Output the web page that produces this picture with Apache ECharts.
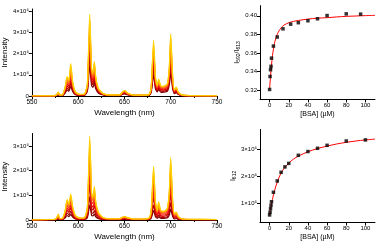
<!DOCTYPE html>
<html><head><meta charset="utf-8">
<script src="https://cdn.jsdelivr.net/npm/echarts@6/dist/echarts.min.js"></script>
<style>html,body{margin:0;padding:0;background:#fff}#c{width:377px;height:245px}</style>
</head><body><div id="c"></div>
<script>
// Wavelength grid (nm)
const wavelength = [550,570,575,577,578.5,580,583,586,588,590,592,594,597,602,607,610,612.5,614.5,616,617.5,619,622,627,635,645,648,650.5,653,660,672,677,679,681.5,683.5,685.5,687,689,691.5,694,696.5,698.5,700,702,704,706,708,712,720,750];

// Top spectra (intensity, units of 1e6), low BSA (dark red) -> high BSA (yellow)
const topS1 = [0.00,0.00,0.01,0.03,0.07,0.02,0.02,0.14,0.28,0.23,0.46,0.21,0.06,0.03,0.04,0.23,1.45,0.49,0.41,0.61,0.34,0.13,0.05,0.02,0.02,0.08,0.10,0.06,0.02,0.02,0.04,0.19,0.99,0.34,0.19,0.30,0.19,0.17,0.19,0.23,0.53,1.10,0.38,0.11,0.16,0.08,0.02,0.01,0.00];
const topS2 = [0.00,0.00,0.01,0.04,0.09,0.02,0.03,0.18,0.37,0.30,0.61,0.28,0.08,0.04,0.05,0.29,1.85,0.63,0.53,0.78,0.43,0.17,0.06,0.02,0.02,0.10,0.13,0.07,0.02,0.02,0.05,0.24,1.26,0.43,0.24,0.38,0.24,0.22,0.24,0.29,0.67,1.41,0.48,0.14,0.20,0.10,0.02,0.01,0.00];
const topS3 = [0.00,0.01,0.01,0.05,0.11,0.03,0.04,0.23,0.47,0.38,0.78,0.36,0.10,0.05,0.06,0.35,2.25,0.76,0.64,0.95,0.53,0.20,0.07,0.03,0.03,0.12,0.15,0.09,0.02,0.02,0.06,0.29,1.53,0.53,0.29,0.47,0.29,0.27,0.29,0.35,0.82,1.71,0.58,0.18,0.25,0.12,0.03,0.01,0.01];
const topS4 = [0.00,0.01,0.01,0.05,0.12,0.03,0.04,0.27,0.56,0.46,0.93,0.43,0.12,0.05,0.07,0.41,2.60,0.88,0.74,1.09,0.61,0.24,0.08,0.03,0.03,0.14,0.18,0.10,0.03,0.03,0.07,0.34,1.77,0.61,0.34,0.54,0.34,0.31,0.34,0.41,0.95,1.98,0.68,0.20,0.28,0.14,0.03,0.01,0.01];
const topS5 = [0.00,0.01,0.02,0.06,0.14,0.04,0.05,0.32,0.65,0.53,1.09,0.50,0.14,0.06,0.08,0.46,2.95,1.00,0.84,1.24,0.69,0.27,0.09,0.04,0.04,0.15,0.20,0.11,0.03,0.03,0.08,0.38,2.01,0.69,0.38,0.61,0.38,0.35,0.38,0.46,1.07,2.24,0.77,0.23,0.32,0.15,0.04,0.02,0.01];
const topS6 = [0.00,0.01,0.02,0.07,0.15,0.04,0.05,0.37,0.75,0.62,1.25,0.57,0.16,0.07,0.09,0.51,3.30,1.11,0.94,1.39,0.77,0.30,0.10,0.04,0.04,0.17,0.22,0.13,0.03,0.03,0.09,0.43,2.25,0.77,0.43,0.69,0.43,0.39,0.43,0.51,1.20,2.51,0.86,0.26,0.36,0.17,0.04,0.02,0.01];
const topS7 = [0.00,0.01,0.02,0.07,0.17,0.05,0.06,0.41,0.85,0.69,1.41,0.64,0.18,0.07,0.09,0.56,3.60,1.22,1.03,1.51,0.84,0.33,0.11,0.05,0.05,0.19,0.24,0.14,0.04,0.04,0.09,0.47,2.45,0.84,0.47,0.75,0.47,0.43,0.47,0.56,1.31,2.74,0.94,0.28,0.39,0.19,0.05,0.02,0.01];
const topS8 = [0.00,0.01,0.02,0.08,0.18,0.05,0.06,0.45,0.92,0.75,1.53,0.70,0.20,0.08,0.10,0.60,3.85,1.30,1.10,1.62,0.90,0.35,0.12,0.05,0.05,0.20,0.26,0.15,0.04,0.04,0.10,0.50,2.62,0.90,0.50,0.80,0.50,0.46,0.50,0.60,1.40,2.93,1.00,0.30,0.42,0.20,0.05,0.02,0.01];

// Bottom spectra (intensity, units of 1e5)
const botS1 = [0.00,0.00,0.01,0.02,0.04,0.01,0.01,0.09,0.18,0.14,0.23,0.12,0.04,0.01,0.02,0.10,0.60,0.19,0.17,0.24,0.13,0.05,0.02,0.01,0.01,0.02,0.02,0.02,0.01,0.01,0.02,0.08,0.38,0.13,0.07,0.13,0.07,0.06,0.07,0.09,0.21,0.44,0.15,0.04,0.06,0.03,0.01,0.01,0.00];
const botS2 = [0.00,0.01,0.01,0.03,0.07,0.02,0.02,0.13,0.28,0.21,0.35,0.18,0.06,0.02,0.03,0.15,0.95,0.31,0.27,0.38,0.21,0.08,0.03,0.01,0.01,0.03,0.04,0.03,0.01,0.01,0.03,0.13,0.60,0.21,0.11,0.20,0.11,0.10,0.11,0.14,0.33,0.70,0.24,0.07,0.09,0.04,0.01,0.01,0.01];
const botS3 = [0.00,0.01,0.01,0.04,0.10,0.03,0.03,0.19,0.39,0.31,0.49,0.26,0.08,0.03,0.04,0.23,1.45,0.47,0.40,0.58,0.32,0.13,0.04,0.02,0.02,0.05,0.06,0.04,0.02,0.02,0.04,0.19,0.92,0.32,0.17,0.31,0.17,0.15,0.16,0.21,0.51,1.07,0.36,0.11,0.14,0.06,0.02,0.01,0.01];
const botS4 = [0.00,0.01,0.02,0.05,0.13,0.03,0.04,0.23,0.49,0.38,0.61,0.32,0.10,0.04,0.05,0.30,1.85,0.60,0.52,0.73,0.41,0.16,0.05,0.03,0.03,0.07,0.08,0.05,0.02,0.02,0.05,0.24,1.18,0.41,0.22,0.40,0.22,0.20,0.21,0.27,0.65,1.37,0.46,0.14,0.17,0.08,0.03,0.02,0.01];
const botS5 = [0.00,0.01,0.02,0.07,0.17,0.04,0.05,0.28,0.60,0.46,0.75,0.39,0.13,0.06,0.07,0.38,2.35,0.76,0.66,0.93,0.52,0.21,0.07,0.03,0.03,0.08,0.10,0.07,0.03,0.03,0.07,0.31,1.49,0.52,0.28,0.50,0.28,0.25,0.26,0.35,0.83,1.74,0.59,0.17,0.22,0.10,0.03,0.02,0.01];
const botS6 = [0.00,0.02,0.02,0.08,0.20,0.05,0.06,0.34,0.71,0.55,0.88,0.46,0.15,0.07,0.08,0.45,2.80,0.91,0.78,1.11,0.62,0.25,0.08,0.04,0.04,0.10,0.12,0.08,0.03,0.03,0.08,0.37,1.78,0.62,0.33,0.60,0.33,0.30,0.31,0.41,0.99,2.08,0.70,0.21,0.26,0.12,0.04,0.02,0.02];
const botS7 = [0.00,0.02,0.03,0.09,0.22,0.06,0.06,0.37,0.78,0.60,0.98,0.51,0.17,0.07,0.09,0.51,3.15,1.02,0.88,1.25,0.69,0.28,0.09,0.05,0.05,0.11,0.13,0.09,0.04,0.04,0.09,0.42,2.00,0.69,0.37,0.68,0.37,0.33,0.35,0.46,1.11,2.33,0.79,0.23,0.30,0.14,0.05,0.03,0.02];
const botS8 = [0.00,0.02,0.03,0.10,0.24,0.06,0.07,0.40,0.84,0.65,1.05,0.55,0.18,0.08,0.10,0.55,3.40,1.10,0.95,1.35,0.75,0.30,0.10,0.05,0.05,0.12,0.14,0.10,0.04,0.04,0.10,0.45,2.16,0.75,0.40,0.73,0.40,0.36,0.38,0.50,1.20,2.52,0.85,0.25,0.32,0.15,0.05,0.03,0.02];

// Titration data
const ratioX = [0,0.5,1,1.5,2,4,8,14,22,30,40,50,60,80,95];
const ratioY = [0.3207,0.3347,0.342,0.3456,0.3544,0.3674,0.3772,0.386,0.391,0.3926,0.3947,0.3968,0.4003,0.4021,0.4018];
const ratioFitX = [0,1,2,3,4,5,6,8,10,12,15,20,25,30,40,50,60,70,80,90,100,110];
const ratioFitY = [0.321,0.335,0.347,0.357,0.364,0.370,0.374,0.380,0.384,0.387,0.390,0.3925,0.394,0.395,0.3965,0.3975,0.398,0.3988,0.3994,0.3998,0.4002,0.4005];

const i612X = [0,0.5,1,1.5,2,4,8,12,16,20,30,40,50,60,80,100];
const i612Y = [0.58,0.68,0.81,0.94,1.07,1.42,1.84,2.16,2.36,2.49,2.79,2.93,3.05,3.16,3.32,3.36]; // 1e5
const i612FitX = [0,1,2,3,4,5,6,8,10,12,15,20,25,30,40,50,60,70,80,90,100,110];
const i612FitY = [0.55,0.78,0.98,1.15,1.32,1.45,1.58,1.80,1.98,2.13,2.30,2.50,2.65,2.76,2.92,3.04,3.13,3.21,3.27,3.32,3.36,3.39];

// Tick labels
const specXTicks = [550,600,650,700,750];
const topYTicks = [0,1,2,3,4];
const botYTicks = [0,1,2,3];
const bsaTicks = [0,20,40,60,80,100];
const ratioTicks = [0.32,0.34,0.36,0.38,0.40];
const i612Ticks = [1,2,3];

const topSpectra = [topS1,topS2,topS3,topS4,topS5,topS6,topS7,topS8];
const botSpectra = [botS1,botS2,botS3,botS4,botS5,botS6,botS7,botS8];
const colors = ['#7a0000','#a80000','#d00000','#ee1010','#ff3a1a','#ff7010','#ffa500','#ffd000'];

const F = 'Arial, "Liberation Sans", sans-serif';
const axLine = {show:true, onZero:false, lineStyle:{color:'#000', width:1}};
const tick = {show:true, inside:false, length:3, lineStyle:{color:'#000', width:1}};
const lab = {color:'#000', fontSize:6.5, fontFamily:F, margin:3};

function zip(x,y){return x.map((v,i)=>[v,y[i]]);}

const chart = echarts.init(document.getElementById('c'), null, {renderer:'canvas'});
const series = [];
topSpectra.forEach((s,i)=>series.push({type:'line', xAxisIndex:0, yAxisIndex:0, data:zip(wavelength,s), showSymbol:false, smooth:0.2, lineStyle:{color:colors[i], width:1.2}, silent:true}));
botSpectra.forEach((s,i)=>series.push({type:'line', xAxisIndex:1, yAxisIndex:1, data:zip(wavelength,s), showSymbol:false, smooth:0.2, lineStyle:{color:colors[i], width:1.2}, silent:true}));
series.push({type:'line', xAxisIndex:2, yAxisIndex:2, data:zip(ratioFitX,ratioFitY), showSymbol:false, smooth:0.3, lineStyle:{color:'#ff0000', width:1}});
series.push({type:'scatter', xAxisIndex:2, yAxisIndex:2, data:zip(ratioX,ratioY), symbol:'rect', symbolSize:3.5, itemStyle:{color:'#000'}, z:5});
series.push({type:'line', xAxisIndex:3, yAxisIndex:3, data:zip(i612FitX,i612FitY), showSymbol:false, smooth:0.3, lineStyle:{color:'#ff0000', width:1}});
series.push({type:'scatter', xAxisIndex:3, yAxisIndex:3, data:zip(i612X,i612Y), symbol:'rect', symbolSize:3.5, itemStyle:{color:'#000'}, z:5});

function specX(idx){
  return {type:'value', gridIndex:idx, min:550, max:750, interval:50,
    name:'Wavelength (nm)', nameLocation:'middle', nameGap:13, nameTextStyle:{fontSize:8, fontFamily:F, color:'#000'},
    axisLine:axLine, axisTick:tick, minorTick:{show:true, splitNumber:2, length:2, lineStyle:{color:'#000'}},
    axisLabel:Object.assign({}, lab), splitLine:{show:false}};
}
function bsaX(idx){
  return {type:'value', gridIndex:idx, min:-10, max:110,
    name:'[BSA] (µM)', nameLocation:'middle', nameGap:11, nameTextStyle:{fontSize:7, fontFamily:F, color:'#000'},
    axisLine:axLine, axisTick:Object.assign({customValues:bsaTicks}, tick),
    axisLabel:Object.assign({customValues:bsaTicks}, lab, {fontSize:6}), splitLine:{show:false}};
}

const option = {
  animation:false,
  backgroundColor:'#fff',
  grid:[
    {left:31, right:160, top:9, bottom:149, containLabel:false},
    {left:31, right:160, top:133.5, bottom:25, containLabel:false},
    {left:260, right:2, top:5.6, bottom:145.6, containLabel:false},
    {left:260, right:2, top:129.4, bottom:22.5, containLabel:false}
  ],
  xAxis:[specX(0), specX(1), bsaX(2), bsaX(3)],
  yAxis:[
    {type:'value', gridIndex:0, min:0, max:4.1, name:'Intensity', nameLocation:'middle', nameGap:22,
     nameTextStyle:{fontSize:8, fontFamily:F, color:'#000'}, axisLine:axLine,
     axisTick:Object.assign({customValues:topYTicks}, tick),
     axisLabel:Object.assign({customValues:topYTicks, formatter:v=>v===0?'0':v+'×10⁶'}, lab, {fontSize:6}), splitLine:{show:false}},
    {type:'value', gridIndex:1, min:0, max:3.5, name:'Intensity', nameLocation:'middle', nameGap:22,
     nameTextStyle:{fontSize:8, fontFamily:F, color:'#000'}, axisLine:axLine,
     axisTick:Object.assign({customValues:botYTicks}, tick),
     axisLabel:Object.assign({customValues:botYTicks, formatter:v=>v===0?'0':v+'×10⁵'}, lab, {fontSize:6}), splitLine:{show:false}},
    {type:'value', gridIndex:2, min:0.31, max:0.411, name:'I{s|592}/I{s|613}', nameLocation:'middle', nameGap:16,
     nameTextStyle:{fontSize:7, fontFamily:F, color:'#000', rich:{s:{fontSize:5, fontFamily:F, color:'#000', verticalAlign:'bottom', padding:[3,0,0,0]}}},
     axisLine:axLine, axisTick:Object.assign({customValues:ratioTicks}, tick),
     axisLabel:Object.assign({customValues:ratioTicks, formatter:v=>v.toFixed(2)}, lab, {fontSize:6}), splitLine:{show:false}},
    {type:'value', gridIndex:3, min:0.3, max:3.75, name:'I{s|612}', nameLocation:'middle', nameGap:16,
     nameTextStyle:{fontSize:7, fontFamily:F, color:'#000', rich:{s:{fontSize:5, fontFamily:F, color:'#000', verticalAlign:'bottom', padding:[3,0,0,0]}}},
     axisLine:axLine, axisTick:Object.assign({customValues:i612Ticks}, tick),
     axisLabel:Object.assign({customValues:i612Ticks, formatter:v=>v+'×10⁵'}, lab, {fontSize:6}), splitLine:{show:false}}
  ],
  series:series
};
chart.setOption(option);
</script>
</body></html>
